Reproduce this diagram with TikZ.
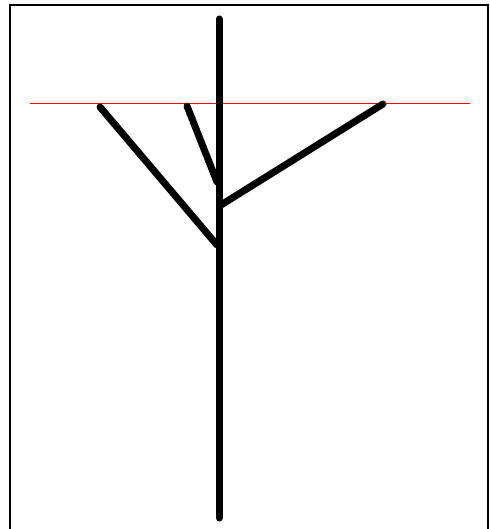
\documentclass[tikz,border=0pt]{standalone}
\usepackage{tikz}
\usetikzlibrary{positioning}

\begin{document}
\begin{tikzpicture}[
      x=1bp, y=-1bp,
      % Reusable styles for a cleaner look
      frame/.style={draw=black, line width=2bp},
      branch/.style={draw=black, line width=7bp, line cap=round},
      guide/.style={draw=red, line width=1bp}
    ]
    \useasboundingbox (0,0) rectangle (490,529);
    % Open frame (bottom edge cut off)
    \draw[frame] (9.5,535) -- (9.5,5.5) -- (487.5,5.5) -- (487.5,535);

    % Stem and its joints
    \coordinate (stemtop) at (219,19);
    \coordinate (stembot) at (219,518);
    \coordinate (jointlow) at (217,245);
    \coordinate (jointmid) at (217,182);
    \coordinate (jointhigh) at (221,205);

    % Branch tips
    \coordinate (tipleft) at (100,107);
    \coordinate (tipmid) at (187,106);
    \coordinate (tipright) at (383,104);

    % Guide line through the tips
    \coordinate (guidel) at (30,103.5);
    \coordinate (guider) at (470,103.5);
    \draw[guide] (guidel) -- (guider);

    \draw[branch] (stemtop) -- (stembot);
    \draw[branch] (tipleft) -- (jointlow);
    \draw[branch] (tipmid) -- (jointmid);
    \draw[branch] (tipright) -- (jointhigh);
  \end{tikzpicture}
\end{document}
